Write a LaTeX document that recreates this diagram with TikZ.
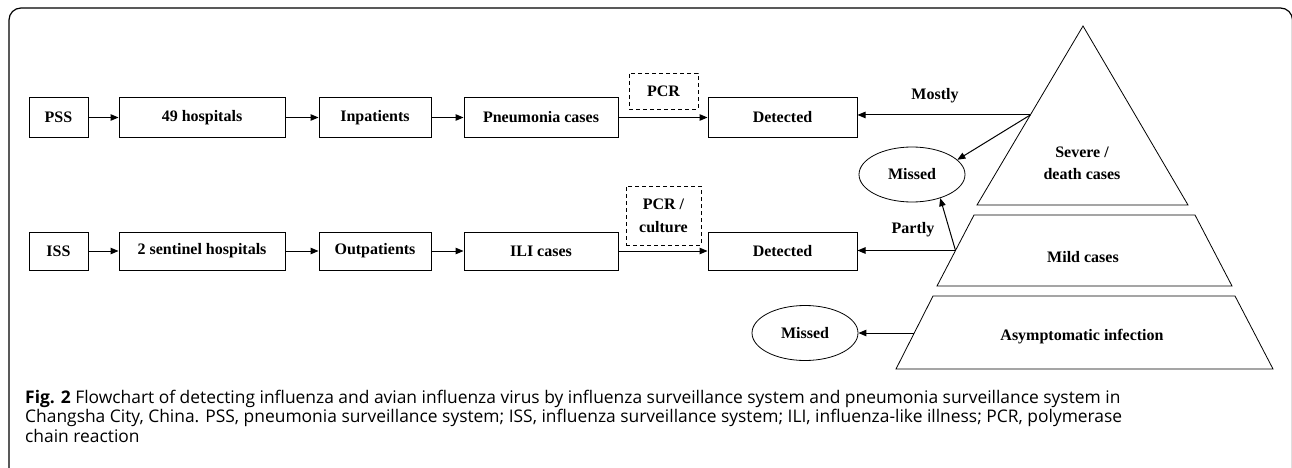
\documentclass[tikz,border=0pt]{standalone}
\usepackage{fontspec}
\setmainfont{Liberation Serif}
\newfontfamily\capfont{Open Sans}
\usetikzlibrary{arrows.meta,shapes.geometric,calc}
\begin{document}
\begin{tikzpicture}[x=1pt,y=-1pt,
  boxfont/.style={font=\fontsize{16}{23}\selectfont\bfseries},
  box/.style={draw, line width=1pt, minimum height=39pt, inner sep=0pt, boxfont},
  dbox/.style={draw, line width=0.9pt, dash pattern=on 4pt off 3pt, inner sep=0pt, align=center, boxfont},
  oval/.style={draw, ellipse, line width=0.8pt, minimum width=106pt, minimum height=55pt, inner sep=0pt, boxfont},
  arr/.style={line width=1pt, -{Triangle[length=8pt,width=6.5pt]}},
  lbl/.style={inner sep=0pt, align=center, font=\fontsize{16}{22}\selectfont\bfseries},
  pyr/.style={draw, line width=0.8pt},
  captext/.style={anchor=base west, inner sep=0pt, font=\capfont\fontsize{17.4}{20}\selectfont}
]
\useasboundingbox (0,0) rectangle (1292,468);
\clip (0,0) rectangle (1292,468);
\draw[line width=1.2pt, rounded corners=12pt] (9,8) rectangle (1292.5,480);

% row 1
\node[box, minimum width=59pt]  (pss)  at (58.5,117.5) {PSS};
\node[box, minimum width=166pt] (h49)  at (202,117.5) {49 hospitals};
\node[box, minimum width=112pt] (inp)  at (375,117.5) {Inpatients};
\node[box, minimum width=154pt] (pne)  at (541,117.5) {Pneumonia cases};
\node[box, minimum width=149pt] (det1) at (782.5,117.5) {Detected};
\node[dbox, minimum width=69pt, minimum height=36pt] (pcr1) at (663.5,91) {PCR};

% row 2
\node[box, minimum width=59pt, minimum height=38pt]  (iss)  at (58.5,251) {ISS};
\node[box, minimum width=166pt, minimum height=38pt] (h2)   at (202,251) {2 sentinel hospitals};
\node[box, minimum width=112pt, minimum height=38pt] (outp) at (375,251) {Outpatients};
\node[box, minimum width=154pt, minimum height=38pt] (ili)  at (541,251) {ILI cases};
\node[box, minimum width=149pt, minimum height=38pt] (det2) at (782.5,251) {Detected};
\node[dbox, minimum width=75pt, minimum height=59pt] (pcr2) at (663.5,215.5) {PCR /\\culture};

\draw[arr] (pss) -- (h49);
\draw[arr] (h49) -- (inp);
\draw[arr] (inp) -- (pne);
\draw[arr] (pne) -- (det1);
\draw[arr] (iss) -- (h2);
\draw[arr] (h2) -- (outp);
\draw[arr] (outp) -- (ili);
\draw[arr] (ili) -- (det2);

% pyramid
\coordinate (apex) at (1083,26);
\coordinate (tbl) at (977,205);
\coordinate (tbr) at (1188,205);
\coordinate (mtl) at (974,215);
\coordinate (mtr) at (1195,215);
\coordinate (mbr) at (1232,286);
\coordinate (mbl) at (937,286);
\coordinate (atl) at (933,296);
\coordinate (atr) at (1235,296);
\coordinate (abr) at (1273,369);
\coordinate (abl) at (896,369);
\draw[pyr] (apex) -- (tbr) -- (tbl) -- cycle;
\draw[pyr] (mtl) -- (mtr) -- (mbr) -- (mbl) -- cycle;
\draw[pyr] (atl) -- (atr) -- (abr) -- (abl) -- cycle;
\node[lbl] (sev)  at (1082,163) {Severe /\\death cases};
\node[lbl] (mild) at (1083,257) {Mild cases};
\node[lbl] (asym) at (1082,337) {Asymptomatic infection};

% missed
\node[oval] (mis1) at (912,174.5) {Missed};
\node[oval] (mis2) at (805,333) {Missed};

\coordinate (e1) at ($(apex)!0.497!(tbl)$);
\coordinate (e2) at ($(mtl)!0.50!(mbl)$);
\coordinate (e3) at ($(atl)!0.507!(abl)$);
\draw[arr] (e1) -- (e1 -| det1.east);
\draw[arr] (e1) -- (mis1.18);
\draw[arr] (e2) -- (e2 -| det2.east);
\draw[arr] (e2) -- (mis1.-40);
\draw[arr] (e3) -- (e3 -| mis2.east);
\node[lbl] (mostly) at (935,96) {Mostly};
\node[lbl] (partly) at (913,230) {Partly};

% caption
\node[captext] (cap1) at (25,403) {\textbf{Fig. 2} Flowchart of detecting influenza and avian influenza virus by influenza surveillance system and pneumonia surveillance system in};
\node[captext] (cap2) at (25,422.5) {Changsha City, China. PSS, pneumonia surveillance system; ISS, influenza surveillance system; ILI, influenza-like illness; PCR, polymerase};
\node[captext] (cap3) at (25,442) {chain reaction};
\end{tikzpicture}
\end{document}
